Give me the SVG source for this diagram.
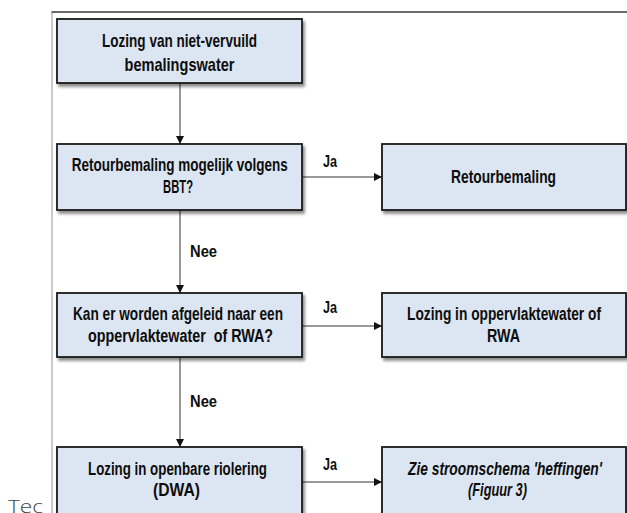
<svg xmlns="http://www.w3.org/2000/svg" width="627" height="513" viewBox="0 0 627 513">
<style>
.box{fill:#dce6f2;stroke:#1a1a1a;stroke-width:1.8;filter:url(#sh)}
.t{font-family:"Liberation Sans Narrow","Liberation Sans",Arial,sans-serif;font-weight:bold;fill:#0d0d0d;text-anchor:middle}
.s{font-size:17.5px}
.b{font-size:19px}
.i{font-style:italic}
.lbl{font-family:"Liberation Sans Narrow","Liberation Sans",Arial,sans-serif;font-weight:bold;fill:#0d0d0d;font-size:17px}
.c{stroke:#333;stroke-width:1;fill:none}
</style>
<defs>
<filter id="sh" x="-10%" y="-20%" width="130%" height="150%">
<feDropShadow dx="2" dy="3" stdDeviation="1.6" flood-color="#000" flood-opacity="0.45"/>
</filter>
<marker id="ah" markerWidth="8" markerHeight="8" refX="8" refY="4" orient="auto" markerUnits="userSpaceOnUse">
<path d="M0,0 L8,4 L0,8 Z" fill="#111"/>
</marker>
</defs>
<rect width="627" height="513" fill="#fff"/>
<g id="frame">
<line x1="52" y1="12" x2="52" y2="513" stroke="#a6a6a6" stroke-width="1.2"/>
<line x1="51.5" y1="12" x2="627" y2="12" stroke="#6a6a6a" stroke-width="1.8"/>
</g>
<text x="8" y="512.5" style="font-family:'Open Sans',sans-serif;font-weight:300;font-size:19px;fill:#444" textLength="35" lengthAdjust="spacingAndGlyphs">Tec</text>
<g id="connectors">
<line class="c" x1="180" y1="84" x2="180" y2="144" marker-end="url(#ah)"/>
<line class="c" x1="180" y1="210" x2="180" y2="293" marker-end="url(#ah)"/>
<line class="c" x1="180" y1="357" x2="180" y2="447" marker-end="url(#ah)"/>
<line class="c" x1="302" y1="177" x2="382" y2="177" marker-end="url(#ah)"/>
<line class="c" x1="302" y1="326" x2="382" y2="326" marker-end="url(#ah)"/>
<line class="c" x1="302" y1="482" x2="382" y2="482" marker-end="url(#ah)"/>
<text class="lbl" x="323" y="167" textLength="14" lengthAdjust="spacingAndGlyphs">Ja</text>
<text class="lbl" x="323" y="313" textLength="14" lengthAdjust="spacingAndGlyphs">Ja</text>
<text class="lbl" x="323" y="470" textLength="14" lengthAdjust="spacingAndGlyphs">Ja</text>
<text class="lbl" x="190" y="257" textLength="27" lengthAdjust="spacingAndGlyphs">Nee</text>
<text class="lbl" x="190" y="407" textLength="27" lengthAdjust="spacingAndGlyphs">Nee</text>
</g>
<g id="n1">
<rect class="box" x="57" y="19" width="245" height="64"/>
<text class="t b" x="179.5" y="47" textLength="155" lengthAdjust="spacingAndGlyphs">Lozing van niet-vervuild</text>
<text class="t b" x="179.5" y="71" textLength="110" lengthAdjust="spacingAndGlyphs">bemalingswater</text>
</g>
<g id="n2">
<rect class="box" x="57" y="144" width="245" height="66"/>
<text class="t s" x="179.8" y="171" textLength="216" lengthAdjust="spacingAndGlyphs">Retourbemaling mogelijk volgens</text>
<text class="t s" x="178" y="193" textLength="30" lengthAdjust="spacingAndGlyphs">BBT?</text>
</g>
<g id="n3">
<rect class="box" x="382" y="144" width="244" height="66"/>
<text class="t s" x="503.5" y="183" textLength="105" lengthAdjust="spacingAndGlyphs">Retourbemaling</text>
</g>
<g id="n4">
<rect class="box" x="57" y="293" width="245" height="64"/>
<text class="t s" x="178" y="320" textLength="210" lengthAdjust="spacingAndGlyphs">Kan er worden afgeleid naar een</text>
<text class="t s" x="180.5" y="342" textLength="185" lengthAdjust="spacingAndGlyphs" xml:space="preserve">oppervlaktewater  of RWA?</text>
</g>
<g id="n5">
<rect class="box" x="382" y="293" width="244" height="64"/>
<text class="t s" x="504" y="320" textLength="194" lengthAdjust="spacingAndGlyphs">Lozing in oppervlaktewater of</text>
<text class="t s" x="503.5" y="342" textLength="33" lengthAdjust="spacingAndGlyphs">RWA</text>
</g>
<g id="n6">
<rect class="box" x="57" y="447" width="245" height="80"/>
<text class="t s" x="177.5" y="475" textLength="179" lengthAdjust="spacingAndGlyphs">Lozing in openbare riolering</text>
<text class="t s" x="176.5" y="496" textLength="47" lengthAdjust="spacingAndGlyphs">(DWA)</text>
</g>
<g id="n7">
<rect class="box" x="382" y="447" width="244" height="80"/>
<text class="t s i" x="505" y="475" textLength="194" lengthAdjust="spacingAndGlyphs">Zie stroomschema 'heffingen'</text>
<text class="t s i" x="497.5" y="496" textLength="59" lengthAdjust="spacingAndGlyphs">(Figuur 3)</text>
</g>
</svg>
